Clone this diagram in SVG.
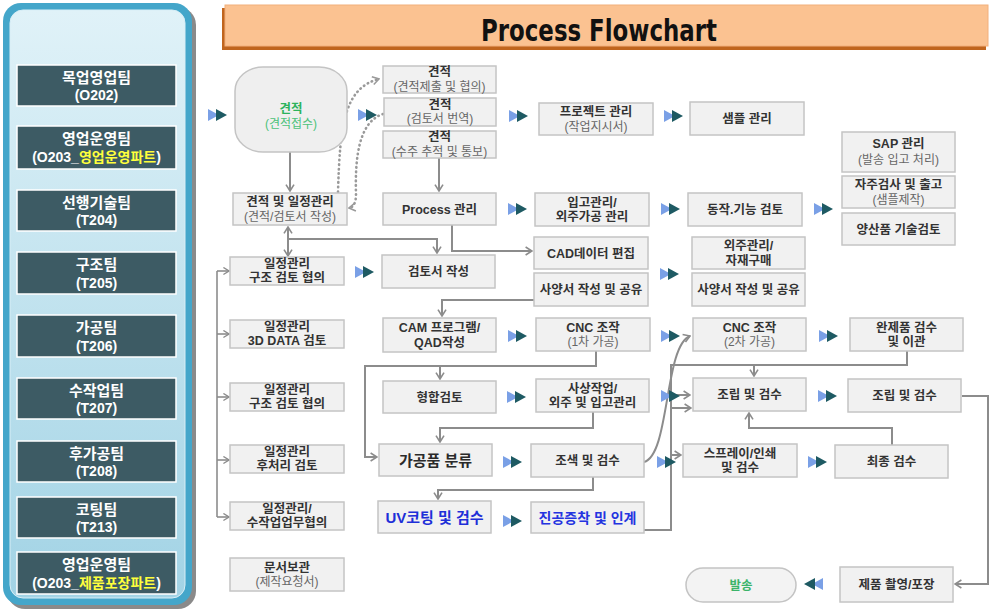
<svg xmlns="http://www.w3.org/2000/svg" xmlns:xlink="http://www.w3.org/1999/xlink" width="992" height="612" viewBox="0 0 992 612">
<style>
.b{fill:#f1f1f1;stroke:#c4c4c4;stroke-width:1.5}
.t{font-family:"Liberation Sans","Noto Sans CJK KR",sans-serif;font-size:12.5px;font-weight:bold;fill:#333;text-anchor:middle}
.s{font-weight:normal;fill:#666;font-size:12px}
.card{fill:#3d5b64;stroke:#ffffff;stroke-width:1.5}
.ct{font-family:"Liberation Sans","Noto Sans CJK KR",sans-serif;font-size:15px;font-weight:bold;fill:#ffffff;text-anchor:middle}
.ct2{font-size:14px}
.y{fill:#ffff3c}
.c{fill:none;stroke:#8c8c8c;stroke-width:2;marker-end:url(#ah)}
.n{fill:none;stroke:#8c8c8c;stroke-width:2}
.dot{fill:none;stroke:#9a9a9a;stroke-width:2.6;stroke-dasharray:0.5 4;stroke-linecap:round}
.sm{fill:none;stroke:#8c8c8c;stroke-width:1.6;marker-end:url(#ahs)}
</style>
<defs>
<linearGradient id="pg" x1="0" y1="0" x2="0" y2="1">
<stop offset="0" stop-color="#e0f2f8"/>
<stop offset="1" stop-color="#a2d3e5"/>
</linearGradient>
<marker id="ah" viewBox="0 0 10 12" refX="9" refY="6" markerWidth="8" markerHeight="11" markerUnits="userSpaceOnUse" orient="auto-start-reverse">
<path d="M1,1 L9,6 L1,11" fill="none" stroke="#8c8c8c" stroke-width="2"/>
</marker>
<marker id="ahd" viewBox="0 0 10 12" refX="9" refY="6" markerWidth="8" markerHeight="11" markerUnits="userSpaceOnUse" orient="auto">
<path d="M1,1 L9,6 L1,11" fill="none" stroke="#9a9a9a" stroke-width="2"/>
</marker>
<marker id="ahs" viewBox="0 0 10 12" refX="9" refY="6" markerWidth="7" markerHeight="9" markerUnits="userSpaceOnUse" orient="auto">
<path d="M1,1 L9,6 L1,11" fill="none" stroke="#8c8c8c" stroke-width="2"/>
</marker>
<g id="dbl"><path d="M0,-6 L11,0 L0,6Z" fill="#7aa0e6"/><path d="M8,-6 L19,0 L8,6Z" fill="#1e5a63"/></g>
<g id="dblr"><path d="M19,-6 L8,0 L19,6Z" fill="#7aa0e6"/><path d="M11,-6 L0,0 L11,6Z" fill="#1e5a63"/></g>
</defs>
<rect width="992" height="612" fill="#ffffff"/>

<!-- left panel -->
<g id="panel">
<rect x="7" y="7" width="189" height="602" rx="18" fill="#8a8a8a"/>
<rect x="3" y="3" width="189" height="602" rx="18" fill="#44a6ca"/>
<rect x="10" y="10" width="175" height="588" rx="13" fill="url(#pg)" stroke="#d8eef6" stroke-width="1"/>
</g>
<g id="team1"><rect class="card" x="17" y="65" width="159" height="41"/><text class="ct" x="96.5" y="83">목업영업팀</text><text class="ct ct2" x="96.5" y="100">(O202)</text></g>
<g id="team2"><rect class="card" x="17" y="126" width="159" height="43"/><text class="ct" x="96.5" y="144">영업운영팀</text><text class="ct ct2" x="96.5" y="162">(O203_<tspan class="y">영업운영파트</tspan>)</text></g>
<g id="team3"><rect class="card" x="17" y="190" width="159" height="41"/><text class="ct" x="96.5" y="208">선행기술팀</text><text class="ct ct2" x="96.5" y="225">(T204)</text></g>
<g id="team4"><rect class="card" x="17" y="252" width="159" height="42"/><text class="ct" x="96.5" y="270">구조팀</text><text class="ct ct2" x="96.5" y="288">(T205)</text></g>
<g id="team5"><rect class="card" x="17" y="315" width="159" height="42"/><text class="ct" x="96.5" y="333">가공팀</text><text class="ct ct2" x="96.5" y="351">(T206)</text></g>
<g id="team6"><rect class="card" x="17" y="378" width="159" height="41"/><text class="ct" x="96.5" y="396">수작업팀</text><text class="ct ct2" x="96.5" y="413">(T207)</text></g>
<g id="team7"><rect class="card" x="17" y="441" width="159" height="41"/><text class="ct" x="96.5" y="459">후가공팀</text><text class="ct ct2" x="96.5" y="476">(T208)</text></g>
<g id="team8"><rect class="card" x="17" y="497" width="159" height="41"/><text class="ct" x="96.5" y="515">코팅팀</text><text class="ct ct2" x="96.5" y="532">(T213)</text></g>
<g id="team9"><rect class="card" x="17" y="552" width="159" height="42"/><text class="ct" x="96.5" y="570">영업운영팀</text><text class="ct ct2" x="96.5" y="588">(O203_<tspan class="y">제품포장파트</tspan>)</text></g>

<!-- title -->
<g id="title">
<rect x="222" y="8" width="764" height="42" fill="#c0651e"/>
<rect x="225" y="5" width="763" height="41" fill="#fbc291" stroke="#f2b07c" stroke-width="1"/>
<text x="599" y="41" font-family="'Liberation Sans Narrow','DejaVu Sans Condensed','Liberation Sans',sans-serif" font-size="31" font-weight="bold" fill="#111" text-anchor="middle" textLength="236" lengthAdjust="spacingAndGlyphs">Process Flowchart</text>
</g>

<!-- connectors -->
<g id="connectors">
<path class="c" d="M290,152 V191"/>
<path class="dot" d="M338,192 C340,125 344,88 379,79" marker-end="url(#ahd)"/>
<path class="dot" d="M383,114 C358,122 355,160 356,194 Q356,207 349,208" marker-end="url(#ahd)"/>
<path class="c" d="M439,158 V191"/>
<path class="c" d="M288,227 V256" style="marker-start:url(#ah)"/>
<path class="c" d="M288,239 H437 V253"/>
<path class="c" d="M452,225 V251 H532"/>
<path class="c" d="M535,300 H442 V316"/>
<path class="c" d="M596,351 V366 H365 V457 H377"/>
<path class="c" d="M440,366 V379"/>
<path class="c" d="M593,412 V428 H440 V442"/>
<path class="c" d="M593,477 V490 H438 V499"/>
<path class="c" d="M644,462 C670,455 664,346 690,336"/>
<path class="n" d="M644,530 H671 V365 H907 V351"/>
<path class="c" d="M754,365 V376"/>
<path class="c" d="M671,395 H690"/>
<path class="c" d="M671,408 H691"/>
<path class="c" d="M671,455 H681"/>
<path class="c" d="M892,445 V428 H749 V413"/>
<path class="c" d="M962,396 H988 V584 H955"/>
<path class="n" d="M217,271 V517" style="stroke-width:1.6"/>
<path class="sm" d="M217,271 H229"/>
<path class="sm" d="M217,334 H229"/>
<path class="sm" d="M217,397 H229"/>
<path class="sm" d="M217,460 H229"/>
<path class="sm" d="M217,517 H229"/>
<use href="#dbl" x="208" y="115"/>
<use href="#dbl" x="358" y="115"/>
<use href="#dbl" x="509" y="116"/>
<use href="#dbl" x="664" y="116"/>
<use href="#dbl" x="508" y="209"/>
<use href="#dbl" x="661" y="209"/>
<use href="#dbl" x="814" y="209"/>
<use href="#dbl" x="355" y="272"/>
<use href="#dbl" x="660" y="274"/>
<use href="#dbl" x="508" y="336"/>
<use href="#dbl" x="661" y="336"/>
<use href="#dbl" x="819" y="336"/>
<use href="#dbl" x="507" y="397"/>
<use href="#dbl" x="661" y="396"/>
<use href="#dbl" x="818" y="396"/>
<use href="#dbl" x="503" y="462"/>
<use href="#dbl" x="657" y="462"/>
<use href="#dbl" x="808" y="462"/>
<use href="#dbl" x="503" y="521"/>
<use href="#dblr" x="804" y="584"/>
</g>

<!-- nodes -->
<g id="n_quote"><rect class="b" x="235" y="67" width="112" height="85" rx="28" ry="24" style="fill:#efefef"/><text class="t" x="291" y="113" style="fill:#2db35d">견적</text><text class="t s" x="291" y="128" style="fill:#4cc27a">(견적접수)</text></g>
<g id="n_q1"><rect class="b" x="383" y="66" width="113" height="27"/><text class="t" x="439.5" y="76">견적</text><text class="t s" x="439.5" y="90.5">(견적제출 및 협의)</text></g>
<g id="n_q2"><rect class="b" x="384" y="98" width="112" height="28"/><text class="t" x="440" y="108.5">견적</text><text class="t s" x="440" y="123">(검토서 번역)</text></g>
<g id="n_q3"><rect class="b" x="383" y="131" width="113" height="27"/><text class="t" x="439.5" y="141">견적</text><text class="t s" x="439.5" y="155.5">(수주 추적 및 통보)</text></g>
<g id="n_qs"><rect class="b" x="233" y="193" width="114" height="32"/><text class="t" x="290" y="206">견적 및 일정관리</text><text class="t s" x="290" y="220.5">(견적/검토서 작성)</text></g>
<g id="n_proc"><rect class="b" x="383" y="193" width="113" height="32"/><text class="t" x="439.5" y="213.5">Process 관리</text></g>
<g id="n_proj"><rect class="b" x="539" y="103" width="114" height="32"/><text class="t" x="596" y="116">프로젝트 관리</text><text class="t s" x="596" y="130.5">(작업지시서)</text></g>
<g id="n_sample"><rect class="b" x="690" y="102" width="114" height="33"/><text class="t" x="747" y="123">샘플 관리</text></g>
<g id="n_sap"><rect class="b" x="842" y="132" width="113" height="40"/><text class="t" x="898.5" y="148">SAP 관리</text><text class="t s" x="898.5" y="164">(발송 입고 처리)</text></g>
<g id="n_self"><rect class="b" x="842" y="176" width="113" height="32"/><text class="t" x="898.5" y="189">자주검사 및 출고</text><text class="t s" x="898.5" y="203.5">(샘플제작)</text></g>
<g id="n_mass"><rect class="b" x="842" y="213" width="113" height="32"/><text class="t" x="898.5" y="233.5">양산품 기술검토</text></g>
<g id="n_recv"><rect class="b" x="535" y="193" width="114" height="33"/><text class="t" x="592" y="206.5">입고관리/</text><text class="t" x="592" y="221">외주가공 관리</text></g>
<g id="n_func"><rect class="b" x="688" y="193" width="114" height="33"/><text class="t" x="745" y="214">동작.기능 검토</text></g>
<g id="n_s1"><rect class="b" x="230" y="257" width="114" height="28"/><text class="t" x="287" y="268">일정관리</text><text class="t" x="287" y="282">구조 검토 협의</text></g>
<g id="n_review"><rect class="b" x="382" y="255" width="113" height="33"/><text class="t" x="438.5" y="276">검토서 작성</text></g>
<g id="n_cad"><rect class="b" x="534" y="237" width="114" height="32"/><text class="t" x="591" y="257.5">CAD데이터 편집</text></g>
<g id="n_spec1"><rect class="b" x="534" y="273" width="114" height="33"/><text class="t" x="591" y="294">사양서 작성 및 공유</text></g>
<g id="n_out"><rect class="b" x="692" y="237" width="113" height="32"/><text class="t" x="748.5" y="250">외주관리/</text><text class="t" x="748.5" y="264.5">자재구매</text></g>
<g id="n_spec2"><rect class="b" x="692" y="273" width="113" height="33"/><text class="t" x="748.5" y="294">사양서 작성 및 공유</text></g>
<g id="n_s2"><rect class="b" x="230" y="320" width="114" height="28"/><text class="t" x="287" y="331">일정관리</text><text class="t" x="287" y="345">3D DATA 검토</text></g>
<g id="n_cam"><rect class="b" x="383" y="318" width="113" height="34"/><text class="t" x="439.5" y="332">CAM 프로그램/</text><text class="t" x="439.5" y="346.5">QAD작성</text></g>
<g id="n_cnc1"><rect class="b" x="536" y="318" width="114" height="33"/><text class="t" x="593" y="331.5">CNC 조작</text><text class="t s" x="593" y="346">(1차 가공)</text></g>
<g id="n_cnc2"><rect class="b" x="693" y="318" width="113" height="33"/><text class="t" x="749.5" y="331.5">CNC 조작</text><text class="t s" x="749.5" y="346">(2차 가공)</text></g>
<g id="n_done"><rect class="b" x="850" y="318" width="113" height="33"/><text class="t" x="906.5" y="331.5">완제품 검수</text><text class="t" x="906.5" y="346">및 이관</text></g>
<g id="n_s3"><rect class="b" x="230" y="383" width="114" height="28"/><text class="t" x="287" y="394">일정관리</text><text class="t" x="287" y="408">구조 검토 협의</text></g>
<g id="n_fit"><rect class="b" x="383" y="381" width="113" height="32"/><text class="t" x="439.5" y="401.5">형합검토</text></g>
<g id="n_finish"><rect class="b" x="536" y="379" width="113" height="33"/><text class="t" x="592.5" y="392.5">사상작업/</text><text class="t" x="592.5" y="407">외주 및 입고관리</text></g>
<g id="n_asm1"><rect class="b" x="693" y="378" width="113" height="33"/><text class="t" x="749.5" y="399">조립 및 검수</text></g>
<g id="n_asm2"><rect class="b" x="848" y="379" width="113" height="33"/><text class="t" x="904.5" y="400">조립 및 검수</text></g>
<g id="n_s4"><rect class="b" x="230" y="445" width="114" height="28"/><text class="t" x="287" y="456">일정관리</text><text class="t" x="287" y="470">후처리 검토</text></g>
<g id="n_sort"><rect class="b" x="379" y="444" width="113" height="32"/><text class="t" x="435.5" y="465.5" style="font-size:15px;fill:#2a2a2a">가공품 분류</text></g>
<g id="n_color"><rect class="b" x="531" y="444" width="113" height="33"/><text class="t" x="587.5" y="465">조색 및 검수</text></g>
<g id="n_spray"><rect class="b" x="683" y="444" width="114" height="33"/><text class="t" x="740" y="457.5">스프레이/인쇄</text><text class="t" x="740" y="472">및 검수</text></g>
<g id="n_final"><rect class="b" x="835" y="445" width="113" height="33"/><text class="t" x="891.5" y="466">최종 검수</text></g>
<g id="n_s5"><rect class="b" x="230" y="502" width="114" height="28"/><text class="t" x="287" y="513">일정관리/</text><text class="t" x="287" y="527">수작업업무협의</text></g>
<g id="n_uv"><rect class="b" x="378" y="501" width="113" height="32"/><text class="t" x="434.5" y="522.5" style="font-size:15px;fill:#1e2fd8">UV코팅 및 검수</text></g>
<g id="n_vac"><rect class="b" x="531" y="502" width="113" height="31"/><text class="t" x="587.5" y="522.5" style="font-size:14px;fill:#2434e0">진공증착 및 인계</text></g>
<g id="n_doc"><rect class="b" x="230" y="558" width="114" height="33"/><text class="t" x="287" y="571.5">문서보관</text><text class="t s" x="287" y="586">(제작요청서)</text></g>
<g id="n_ship"><rect class="b" x="686" y="568" width="110" height="34" rx="17" style="fill:#f3f3f3"/><text class="t" x="741" y="589.5" style="fill:#3cb46a">발송</text></g>
<g id="n_pack"><rect class="b" x="840" y="567" width="113" height="35"/><text class="t" x="896.5" y="589">제품 촬영/포장</text></g>
</svg>
